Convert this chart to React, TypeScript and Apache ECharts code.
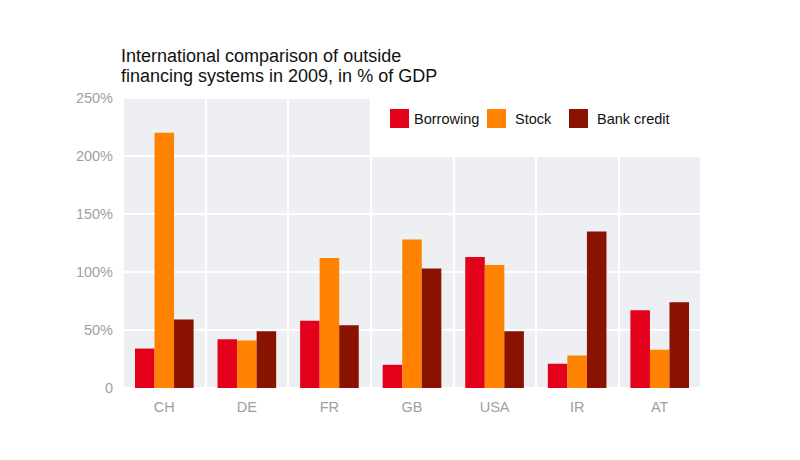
import { useEffect, useRef } from 'react'
import * as echarts from 'echarts'

const countries = ['CH', 'DE', 'FR', 'GB', 'USA', 'IR', 'AT']
const borrowing = [34, 42, 58, 20, 113, 21, 67]
const stock     = [220, 41, 112, 128, 106, 28, 33]
const bankCredit = [59, 49, 54, 103, 49, 135, 74]
const yTicks = [0, 50, 100, 150, 200, 250]

const seriesNames  = ['Borrowing', 'Stock', 'Bank credit']
const seriesColors = ['#e2001a', '#ff8200', '#8a1200']

const FONT = 'Helvetica, "Liberation Sans", Arial, sans-serif'

// plot frame
const W = 800, H = 460
const GRID = { left: 123, right: 99, top: 98, bottom: 72 }

export default function App() {
  const ref = useRef<HTMLDivElement>(null)

  useEffect(() => {
    if (!ref.current) return
    const chart = echarts.init(ref.current, null, { renderer: 'svg' })

    const plotW = W - GRID.left - GRID.right
    const plotH = H - GRID.top - GRID.bottom
    const yMax  = yTicks[yTicks.length - 1]
    const step  = yTicks[1] - yTicks[0]
    // white patch behind the legend: from GB's band to the right edge, top band
    const patchX = GRID.left + 3 * (plotW / countries.length)
    const patchH = plotH * (step / yMax)

    const legendLefts = [385, 482, 564]
    const data = [borrowing, stock, bankCredit]

    chart.setOption({
      animation: false,
      backgroundColor: '#ffffff',
      textStyle: { fontFamily: FONT },
      title: {
        text: 'International comparison of outside\nfinancing systems in 2009, in % of GDP',
        left: 116, top: 41,
        textStyle: { fontSize: 18, fontWeight: 'normal', color: '#111111', lineHeight: 20, fontFamily: FONT },
      },
      legend: seriesNames.map((n, i) => ({
        data: [n],
        left: legendLefts[i], top: 104,
        itemWidth: 19, itemHeight: 19,
        icon: 'rect',
        z: 10,
        textStyle: { fontSize: 14.5, color: '#111111', fontFamily: FONT, padding: [0, 0, 0, i === 0 ? 0 : 4] },
      })),
      graphic: [{
        type: 'rect',
        z: 5,
        shape: { x: patchX, y: GRID.top - 1, width: W - GRID.right - patchX + 2, height: patchH + 0.5 },
        style: { fill: '#ffffff' },
      }],
      grid: {
        ...GRID,
        show: true,
        backgroundColor: '#edeff2',
        borderWidth: 0,
      },
      xAxis: {
        type: 'category',
        data: countries,
        axisLine: { show: false },
        axisTick: { show: false },
        axisLabel: { color: '#a0a0a0', fontSize: 14.5, margin: 11, fontFamily: FONT },
        splitLine: { show: true, lineStyle: { color: '#ffffff', width: 2 } },
      },
      yAxis: {
        type: 'value',
        min: 0, max: yMax, interval: step,
        axisLine: { show: false },
        axisTick: { show: false },
        axisLabel: {
          color: '#a0a0a0', fontSize: 14.5, margin: 10, fontFamily: FONT,
          formatter: (v: number) => (v === 0 ? '0' : `${v}%`),
        },
        splitLine: { lineStyle: { color: '#ffffff', width: 2 } },
      },
      series: seriesNames.map((n, i) => ({
        name: n,
        type: 'bar',
        data: data[i],
        barGap: '0%',
        barCategoryGap: '29%',
        itemStyle: { color: seriesColors[i] },
      })),
    })

    return () => chart.dispose()
  }, [])

  return <div ref={ref} style={{ position: 'fixed', left: 0, top: 0, width: W, height: H }} />
}
